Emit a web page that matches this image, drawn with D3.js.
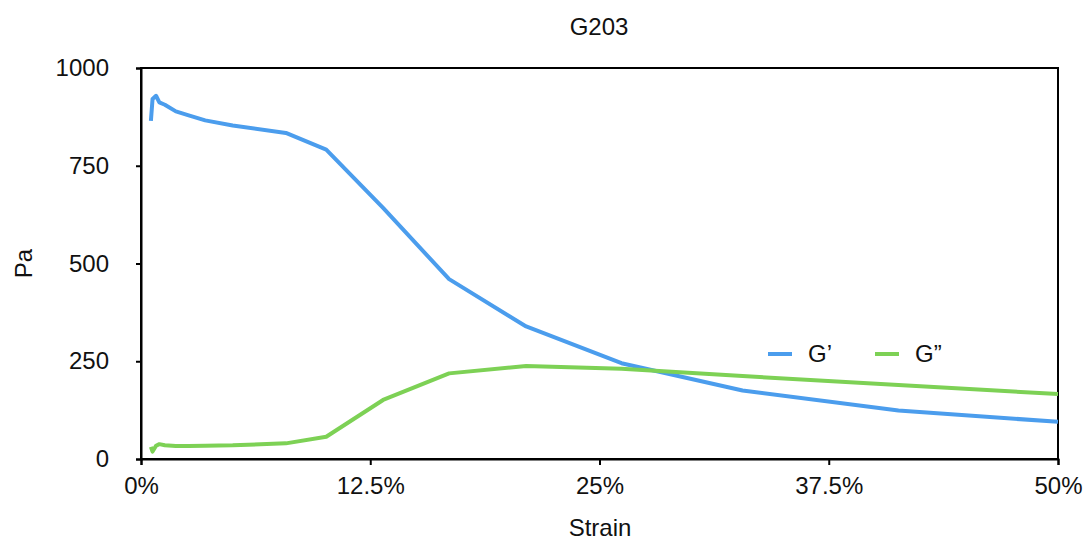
<!DOCTYPE html>
<html>
<head>
<meta charset="utf-8">
<script src="https://cdn.jsdelivr.net/npm/d3@7"></script>
<style>
  html, body { margin: 0; padding: 0; background: #fff; }
  svg { display: block; font-family: "Liberation Sans", Arial, Helvetica, sans-serif; }
</style>
</head>
<body>
<svg id="chart" width="1087" height="544"></svg>
<script>
// Amplitude sweep of sample G203: storage (G’) and loss (G”) modulus vs strain
const strain = [0.54, 0.63, 0.82, 1.0, 1.3, 1.9, 2.6, 3.5, 5.0, 7.9, 10.1, 13.2, 16.8, 21.0, 26.2, 32.8, 41.3, 50.0];
const gPrime = [865, 921, 929, 912, 906, 889, 879, 866, 853, 834, 791, 642, 460, 339, 245, 175, 124, 95];
const gDouble = [31, 19, 34, 38, 35, 33, 33, 34, 35, 40, 57, 151, 219, 238, 231, 212, 189, 166];
const xTicks = [0, 12.5, 25, 37.5, 50];
const yTicks = [0, 250, 500, 750, 1000];
const seriesNames = ["G’", "G”"];
const seriesColors = ["#4b9ded", "#7dd155"];

const svg = d3.select("#chart");
const m = { left: 141, right: 1058, top: 68, bottom: 459 };

const x = d3.scaleLinear().domain([0, 50]).range([m.left, m.right]);
const y = d3.scaleLinear().domain([0, 1000]).range([m.bottom, m.top]);

const fontSize = 24;

// frame around plot area
svg.append("rect")
  .attr("x", m.left).attr("y", m.top)
  .attr("width", m.right - m.left).attr("height", m.bottom - m.top)
  .attr("fill", "none").attr("stroke", "#000").attr("stroke-width", 2);

// axes
const xAxis = d3.axisBottom(x).tickValues(xTicks)
  .tickFormat(d => d + "%").tickSize(6).tickPadding(12);
const gx = svg.append("g").attr("transform", `translate(0,${m.bottom})`).call(xAxis);

const yAxis = d3.axisLeft(y).tickValues(yTicks)
  .tickFormat(d => String(d)).tickSize(5).tickPadding(27);
const gy = svg.append("g").attr("transform", `translate(${m.left},0)`).call(yAxis);

[gx, gy].forEach(g => {
  g.select(".domain").attr("stroke", "#000").attr("stroke-width", 2);
  g.selectAll(".tick line").attr("stroke", "#000").attr("stroke-width", 2);
  g.selectAll(".tick text")
    .attr("fill", "#111")
    .style("font-size", fontSize + "px")
    .style("font-family", '"Liberation Sans", Arial, Helvetica, sans-serif');
});

// series lines
const series = [gPrime, gDouble];
const line = d3.line().x((d, i) => x(strain[i])).y(d => y(d));
series.forEach((vals, k) => {
  svg.append("path")
    .datum(vals)
    .attr("d", line)
    .attr("fill", "none")
    .attr("stroke", seriesColors[k])
    .attr("stroke-width", 4)
    .attr("stroke-linejoin", "round")
    .attr("stroke-linecap", "butt");
});

// legend
const legend = svg.append("g").attr("transform", "translate(768,354)");
seriesNames.forEach((name, k) => {
  const g = legend.append("g").attr("transform", `translate(${k * 107},0)`);
  g.append("line").attr("x1", 0).attr("x2", 24).attr("y1", 0).attr("y2", 0)
    .attr("stroke", seriesColors[k]).attr("stroke-width", 4);
  g.append("text").attr("x", 40).attr("y", 8)
    .attr("fill", "#111").style("font-size", fontSize + "px").text(name);
});

// titles
svg.append("text").attr("x", 599).attr("y", 35).attr("text-anchor", "middle")
  .attr("fill", "#111").style("font-size", fontSize + "px").text("G203");
svg.append("text").attr("x", 600).attr("y", 536).attr("text-anchor", "middle")
  .attr("fill", "#111").style("font-size", fontSize + "px").text("Strain");
svg.append("text")
  .attr("transform", `translate(32,${(m.top + m.bottom) / 2}) rotate(-90)`)
  .attr("text-anchor", "middle")
  .attr("fill", "#111").style("font-size", fontSize + "px").text("Pa");
</script>
</body>
</html>
